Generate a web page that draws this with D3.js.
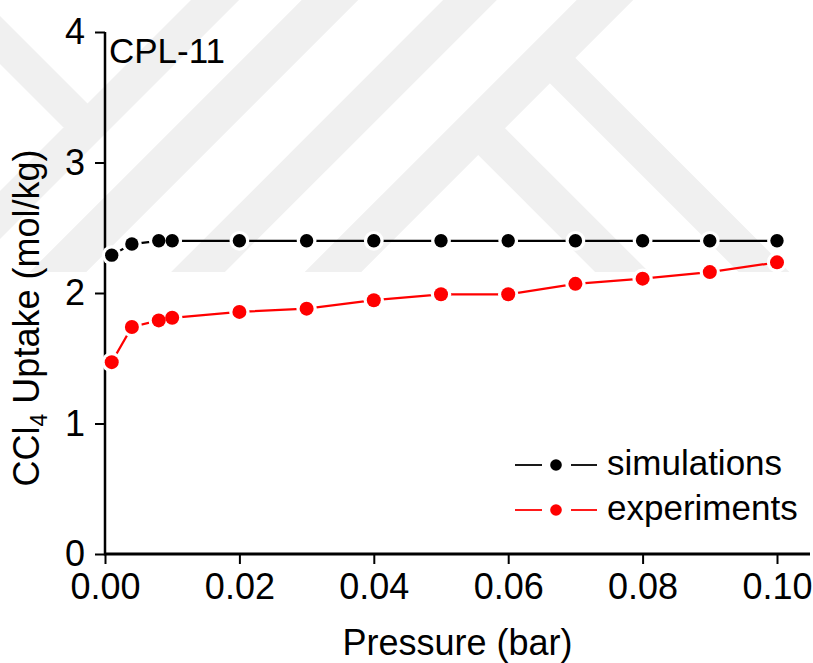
<!DOCTYPE html>
<html>
<head>
<meta charset="utf-8">
<script src="https://cdn.jsdelivr.net/npm/d3@7"></script>
<style>
  html, body { margin: 0; padding: 0; background: #fff; }
  svg { display: block; font-family: "Liberation Sans", Arial, sans-serif; }
</style>
</head>
<body>
<svg id="chart" width="813" height="663"></svg>
<script>
// CCl4 uptake isotherm for CPL-11
const pressure = [0.001, 0.004, 0.008, 0.01, 0.02, 0.03, 0.04, 0.05, 0.06, 0.07, 0.08, 0.09, 0.10];
const simulations = [2.29, 2.375, 2.40, 2.40, 2.40, 2.40, 2.40, 2.40, 2.40, 2.40, 2.40, 2.40, 2.40];
const experiments = [1.47, 1.74, 1.79, 1.81, 1.855, 1.88, 1.945, 1.99, 1.99, 2.07, 2.11, 2.16, 2.235];
const xTicks = [0, 0.02, 0.04, 0.06, 0.08, 0.10];
const yTicks = [0, 1, 2, 3, 4];
const seriesNames = ["simulations", "experiments"];
const seriesColors = ["#000000", "#ff0000"];

const svg = d3.select("#chart");

const x = d3.scaleLinear().domain([0, 0.1]).range([105, 777]);
const y = d3.scaleLinear().domain([0, 4]).range([554, 32]);
const axisRight = 810;

// faint diagonal background pattern
const bg = svg.append("g").attr("fill", "#f0f0f0");
const bandBottom = 272;
// dir 1: "/" band along x + y = c ; dir -1: "\" band along x - y = c
const bands = [
  {dir: 1, c: 215, w: 34, y0: 0, y1: bandBottom},
  {dir: 1, c: 330, w: 40, y0: 0, y1: bandBottom},
  {dir: 1, c: 470, w: 38, y0: 0, y1: bandBottom},
  {dir: 1, c: 605, w: 40, y0: 0, y1: bandBottom},
  {dir: -1, c: -40, w: 34, y0: 0, y1: 127},
  {dir: -1, c: 492, w: 36, y0: 55, y1: bandBottom},
  {dir: -1, c: 350, w: 38, y0: 128, y1: bandBottom}
];
bands.forEach(b => {
  const hw = b.w * Math.SQRT2 / 2;
  const xAt = (yy, off) => b.dir === 1 ? (b.c + off - yy) : (b.c + off + yy);
  const pts = [
    [xAt(b.y0, -hw), b.y0], [xAt(b.y0, hw), b.y0],
    [xAt(b.y1, hw), b.y1], [xAt(b.y1, -hw), b.y1]
  ];
  bg.append("polygon").attr("points", pts.map(p => p.join(",")).join(" "));
});

// axes
const xAxis = d3.axisBottom(x).tickValues(xTicks).tickFormat(d3.format(".2f"))
  .tickSize(10).tickSizeOuter(0).tickPadding(9);
const yAxis = d3.axisLeft(y).tickValues(yTicks).tickFormat(d3.format("d"))
  .tickSize(10).tickSizeOuter(0).tickPadding(10);

const gx = svg.append("g").attr("transform", `translate(0,${y(0)})`).call(xAxis);
const gy = svg.append("g").attr("transform", `translate(${x(0)},0)`).call(yAxis);
[gx, gy].forEach(g => {
  g.select(".domain").remove();
  g.selectAll(".tick line").attr("stroke", "#000").attr("stroke-width", 2);
  g.selectAll(".tick text").attr("fill", "#000").style("font-size", "36px")
    .style("font-family", "'Liberation Sans', Arial, sans-serif");
});
svg.append("line").attr("x1", x(0)).attr("x2", axisRight).attr("y1", y(0)).attr("y2", y(0))
  .attr("stroke", "#000").attr("stroke-width", 3);
svg.append("line").attr("x1", x(0)).attr("x2", x(0)).attr("y1", y(4)).attr("y2", y(0) + 1.5)
  .attr("stroke", "#000").attr("stroke-width", 2.5);

// series
const series = [simulations, experiments].map((vals, i) => ({
  name: seriesNames[i], color: seriesColors[i],
  pts: pressure.map((p, j) => ({p, v: vals[j]}))
}));
const line = d3.line().x(d => x(d.p)).y(d => y(d.v));
const radius = [6.7, 7];

series.forEach((s, i) => {
  const g = svg.append("g");
  g.append("path").datum(s.pts).attr("d", line).attr("fill", "none")
    .attr("stroke", s.color).attr("stroke-width", 2.2);
  g.selectAll("circle.halo").data(s.pts).enter().append("circle").attr("class", "halo")
    .attr("cx", d => x(d.p)).attr("cy", d => y(d.v)).attr("r", radius[i] + 3.2).attr("fill", "#fff");
  g.selectAll("circle.dot").data(s.pts).enter().append("circle").attr("class", "dot")
    .attr("cx", d => x(d.p)).attr("cy", d => y(d.v)).attr("r", radius[i]).attr("fill", s.color);
});

// panel label
svg.append("text").attr("x", 109).attr("y", 63).style("font-size", "35px").attr("fill", "#000")
  .text("CPL-11");

// legend
const legend = svg.append("g");
series.forEach((s, i) => {
  const cy = 465 + i * 45;
  const row = legend.append("g");
  row.append("line").attr("x1", 515).attr("x2", 542).attr("y1", cy).attr("y2", cy)
    .attr("stroke", s.color).attr("stroke-width", 1.8);
  row.append("line").attr("x1", 571).attr("x2", 597).attr("y1", cy).attr("y2", cy)
    .attr("stroke", s.color).attr("stroke-width", 1.8);
  row.append("circle").attr("cx", 556).attr("cy", cy).attr("r", 5.8).attr("fill", s.color);
  row.append("text").attr("x", 607).attr("y", cy + 10).style("font-size", "35px")
    .attr("fill", "#000").text(s.name);
});

// axis titles
svg.append("text").attr("x", (x(0) + axisRight) / 2).attr("y", 655)
  .attr("text-anchor", "middle").style("font-size", "36px").attr("fill", "#000")
  .text("Pressure (bar)");

const yt = svg.append("text").attr("transform", "translate(39,318) rotate(-90)")
  .attr("text-anchor", "middle").style("font-size", "36px").attr("fill", "#000");
yt.append("tspan").text("CCl");
yt.append("tspan").attr("dy", 8).style("font-size", "23px").text("4");
yt.append("tspan").attr("dy", -8).text(" Uptake (mol/kg)");
</script>
</body>
</html>
